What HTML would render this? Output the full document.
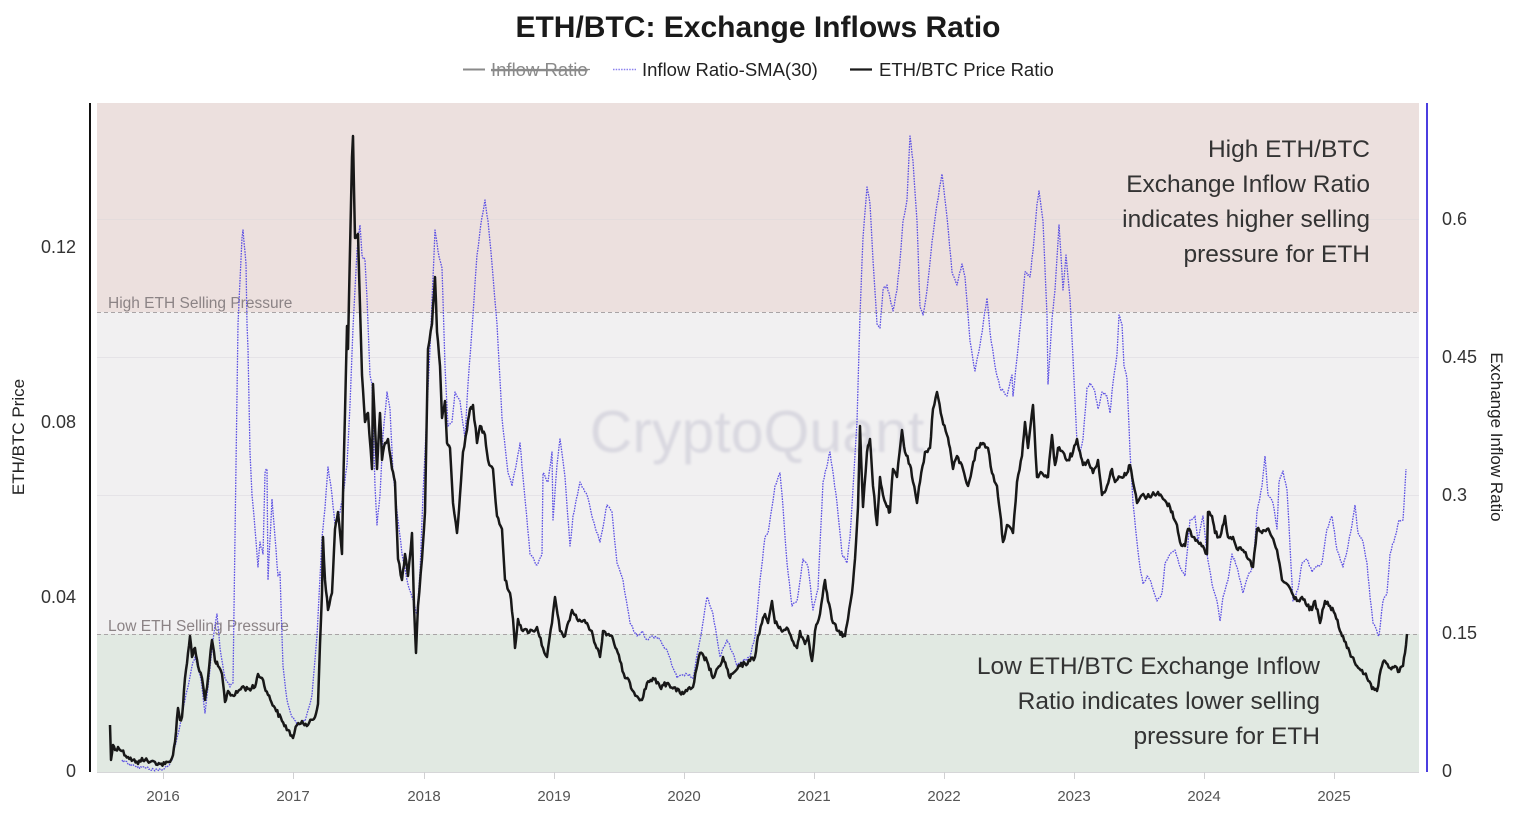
<!DOCTYPE html>
<html>
<head>
<meta charset="utf-8">
<style>
html,body{margin:0;padding:0;background:#fff;}
body{width:1525px;height:816px;overflow:hidden;}
svg{display:block;font-family:"Liberation Sans",Arial,sans-serif;}
</style>
</head>
<body>
<svg id="chart" width="1525" height="816" viewBox="0 0 1525 816" xmlns="http://www.w3.org/2000/svg">
<defs>
<filter id="blur" x="-10%" y="-30%" width="120%" height="160%"><feGaussianBlur stdDeviation="1.3"/></filter>
</defs>
<rect x="0" y="0" width="1525" height="816" fill="#ffffff"/>

<!-- Title -->
<text x="758" y="37" text-anchor="middle" font-size="30" font-weight="bold" fill="#1a1a1a">ETH/BTC: Exchange Inflows Ratio</text>

<!-- Legend -->
<line x1="463" y1="69.5" x2="485" y2="69.5" stroke="#8a8a8a" stroke-width="2"/>
<text x="491" y="76" font-size="18.5" fill="#8a8a8a" text-decoration="line-through">Inflow Ratio</text>
<line x1="491" y1="69.5" x2="590" y2="69.5" stroke="#8a8a8a" stroke-width="1.3"/>
<line x1="613" y1="69.5" x2="636" y2="69.5" stroke="#8a80ee" stroke-width="1.5" stroke-dasharray="1.5 1.2"/>
<text x="642" y="76" font-size="18.5" fill="#222">Inflow Ratio-SMA(30)</text>
<line x1="850" y1="69.5" x2="872" y2="69.5" stroke="#1a1a1a" stroke-width="2.2"/>
<text x="879" y="76" font-size="18.5" fill="#222">ETH/BTC Price Ratio</text>

<!-- Plot backgrounds -->
<rect x="97" y="103" width="1322" height="209" fill="#ece0de"/>
<rect x="97" y="312" width="1322" height="322" fill="#f1f0f1"/>
<rect x="97" y="634" width="1322" height="138" fill="#e1e9e2"/>

<!-- grid lines -->
<line x1="97" y1="219.5" x2="1419" y2="219.5" stroke="#e4dcdc" stroke-width="1"/>
<line x1="97" y1="357.5" x2="1419" y2="357.5" stroke="#e5e3e7" stroke-width="1"/>
<line x1="97" y1="495.5" x2="1419" y2="495.5" stroke="#e5e3e7" stroke-width="1"/>

<!-- thresholds -->
<line x1="97" y1="312.5" x2="1419" y2="312.5" stroke="#a9a4a6" stroke-width="1" stroke-dasharray="4 3"/>
<line x1="97" y1="634.5" x2="1419" y2="634.5" stroke="#a9a4a6" stroke-width="1" stroke-dasharray="4 3"/>
<text x="108" y="308" font-size="15.5" fill="#8b8385">High ETH Selling Pressure</text>
<text x="108" y="631" font-size="15.5" fill="#8b8385">Low ETH Selling Pressure</text>

<!-- watermark -->
<text x="757" y="452" text-anchor="middle" font-size="59" fill="#d9d8e0" filter="url(#blur)">CryptoQuant</text>

<!-- annotations -->
<g font-size="24.5" fill="#333" text-anchor="end">
<text x="1370" y="157">High ETH/BTC</text>
<text x="1370" y="192">Exchange Inflow Ratio</text>
<text x="1370" y="227">indicates higher selling</text>
<text x="1370" y="262">pressure for ETH</text>
<text x="1320" y="674">Low ETH/BTC Exchange Inflow</text>
<text x="1320" y="709">Ratio indicates lower selling</text>
<text x="1320" y="744">pressure for ETH</text>
</g>

<!-- series -->
<polyline id="purple" fill="none" stroke="#5b4fe3" stroke-width="1.3" stroke-dasharray="1.6 1.1" stroke-linejoin="round" points="122,760 128,764 135,766 150,769 162,770 168,766 172,760 178,734 185,700 192,666 195,657 200,675 202,687 205,713 208,687 213,640 217,614 220,648 225,678 230,687 233,683 235,537 238,324 242,238 243,230 246,264 247,324 248,349 250,452 252,495 255,529 258,567 260,542 263,554 265,473 267,469 268,580 272,499 275,537 278,576 280,572 283,666 287,700 292,717 298,725 305,721 312,695 317,636 322,537 325,508 328,467 332,495 335,525 340,512 343,495 347,465 350,405 353,328 357,251 360,225 362,255 365,260 367,298 370,375 372,384 375,486 377,525 380,495 383,435 387,392 390,409 393,473 398,520 402,554 407,580 412,597 417,614 420,572 423,495 427,409 430,349 435,230 438,251 442,268 445,366 448,426 452,422 455,392 460,401 465,439 468,384 473,315 477,255 482,217 485,200 488,221 492,264 497,324 502,418 508,473 512,486 517,460 520,443 523,477 530,554 537,565 542,554 543,473 548,482 552,452 553,520 557,465 560,439 565,477 570,546 573,516 580,482 587,495 593,520 600,542 607,505 612,512 617,563 623,580 630,623 637,636 642,631 647,640 653,636 660,640 668,653 677,678 687,674 693,678 700,640 707,597 713,614 720,657 727,640 733,653 737,666 743,661 750,657 755,636 760,580 765,537 768,533 772,507 775,486 780,473 783,507 787,563 792,606 797,601 803,559 808,567 813,610 818,589 823,482 830,452 837,503 842,554 847,563 850,537 857,422 860,315 863,238 867,187 870,204 873,260 877,324 880,328 883,290 887,285 890,298 893,311 897,290 900,260 903,221 907,200 910,136 913,161 917,221 920,307 923,315 927,290 932,242 937,204 942,174 947,217 952,272 957,285 962,264 965,277 970,341 975,371 980,345 987,298 990,332 995,366 1000,388 1007,396 1012,375 1013,396 1017,358 1022,307 1025,272 1030,277 1033,251 1037,204 1039,191 1043,221 1047,315 1048,384 1052,319 1055,290 1059,225 1063,290 1066,255 1070,298 1073,358 1077,443 1080,452 1083,439 1087,388 1090,383 1095,392 1098,409 1102,392 1107,396 1110,413 1113,383 1117,354 1119,315 1122,324 1124,366 1127,379 1130,452 1133,503 1137,542 1140,567 1143,584 1147,576 1150,580 1153,589 1157,601 1162,593 1165,563 1170,554 1175,550 1180,567 1185,576 1190,520 1195,516 1198,542 1203,516 1207,554 1212,584 1217,601 1220,621 1223,597 1228,580 1232,554 1237,567 1240,580 1243,593 1248,576 1253,567 1257,512 1262,486 1265,456 1268,495 1273,503 1277,529 1279,482 1283,471 1287,490 1290,546 1293,601 1298,589 1302,563 1307,559 1312,572 1317,567 1322,563 1327,529 1332,516 1337,550 1343,567 1348,546 1352,525 1355,505 1358,533 1363,542 1367,563 1370,597 1373,623 1379,636 1383,601 1387,593 1390,554 1395,537 1399,520 1403,520 1406,469"/>

<polyline id="black" fill="none" stroke="#181818" stroke-width="2.5" stroke-linejoin="round" points="110,725 111,760 113,745 115,750 118,747 122,751 128,757 133,760 138,764 142,758 145,760 150,762 155,762 160,764 165,764 170,762 172,758 175,742 178,708 180,720 182,717 185,678 188,653 190,636 192,657 195,648 198,666 202,678 205,700 208,678 212,640 215,661 218,666 222,674 225,702 228,691 232,695 235,695 242,687 248,689 255,687 258,674 262,678 268,695 275,708 282,721 288,730 293,738 297,725 302,721 308,725 315,717 318,704 320,644 322,593 323,537 325,580 328,610 332,593 335,529 338,512 342,554 343,495 345,413 347,326 348,349 350,250 352,157 353,136 355,238 358,234 362,375 365,422 368,413 372,469 373,384 377,469 380,413 382,460 385,443 388,439 392,469 395,482 398,559 402,580 405,554 408,576 412,533 414,606 416,653 418,606 422,559 425,512 428,349 432,324 435,277 437,332 440,366 442,418 445,401 447,443 450,448 453,503 457,533 460,495 463,452 467,430 470,409 473,405 477,443 480,426 485,435 488,460 493,469 497,516 502,529 505,580 510,593 513,619 515,648 518,619 523,631 533,631 537,627 543,648 547,657 552,623 555,597 560,631 565,636 572,610 577,619 587,623 593,636 600,657 603,631 612,636 620,661 625,678 630,683 633,691 642,700 647,683 653,678 660,687 668,683 680,693 687,691 693,687 700,653 707,661 713,678 720,666 723,657 730,678 740,666 750,661 755,657 758,636 762,623 765,614 768,623 772,601 775,623 780,627 783,631 788,629 792,640 797,648 800,631 805,644 808,636 812,661 815,631 820,614 825,580 828,601 833,623 838,631 845,636 848,619 852,593 855,559 858,507 860,426 863,507 867,452 870,439 873,486 877,525 880,477 883,495 887,507 890,512 893,469 897,477 902,430 905,452 910,465 913,482 917,503 920,482 925,452 930,448 933,409 937,392 942,418 947,435 950,448 953,469 957,456 963,469 968,486 972,469 977,448 983,443 988,448 992,473 997,486 1000,512 1003,542 1007,525 1013,533 1017,482 1022,456 1025,422 1028,448 1033,405 1037,477 1042,473 1048,477 1052,435 1055,465 1058,448 1063,452 1068,460 1073,452 1077,439 1080,452 1083,465 1088,460 1093,473 1098,460 1102,495 1107,486 1112,469 1115,482 1120,477 1127,473 1130,465 1137,503 1142,495 1147,497 1152,495 1158,492 1163,499 1170,507 1177,525 1180,542 1185,546 1188,529 1193,537 1198,542 1203,546 1207,554 1208,512 1212,516 1215,533 1220,537 1225,516 1228,537 1233,537 1238,550 1243,550 1248,559 1253,567 1257,529 1262,533 1267,529 1272,537 1277,550 1282,580 1287,584 1292,593 1297,601 1302,597 1307,606 1312,610 1315,601 1320,623 1325,601 1330,606 1335,614 1340,631 1343,636 1347,648 1352,657 1357,666 1362,670 1367,678 1372,689 1377,691 1382,666 1385,661 1390,668 1395,666 1398,672 1403,666 1405,653 1407,634"/>

<!-- axes -->
<line x1="90" y1="103" x2="90" y2="772" stroke="#111" stroke-width="2"/>
<line x1="1427" y1="103" x2="1427" y2="772" stroke="#4b3ee0" stroke-width="2"/>
<line x1="97" y1="772.5" x2="1419" y2="772.5" stroke="#d6d6d8" stroke-width="1"/>
<g stroke="#d0d0d2" stroke-width="1">
<line x1="163.5" y1="772" x2="163.5" y2="779"/>
<line x1="293.5" y1="772" x2="293.5" y2="779"/>
<line x1="424.5" y1="772" x2="424.5" y2="779"/>
<line x1="554.5" y1="772" x2="554.5" y2="779"/>
<line x1="684.5" y1="772" x2="684.5" y2="779"/>
<line x1="814.5" y1="772" x2="814.5" y2="779"/>
<line x1="944.5" y1="772" x2="944.5" y2="779"/>
<line x1="1074.5" y1="772" x2="1074.5" y2="779"/>
<line x1="1204.5" y1="772" x2="1204.5" y2="779"/>
<line x1="1334.5" y1="772" x2="1334.5" y2="779"/>
</g>

<!-- left ticks -->
<g font-size="18" fill="#333" text-anchor="end">
<text x="76" y="253">0.12</text>
<text x="76" y="428">0.08</text>
<text x="76" y="603">0.04</text>
<text x="76" y="777">0</text>
</g>
<!-- right ticks -->
<g font-size="18" fill="#333">
<text x="1442" y="225">0.6</text>
<text x="1442" y="363">0.45</text>
<text x="1442" y="501">0.3</text>
<text x="1442" y="639">0.15</text>
<text x="1442" y="777">0</text>
</g>
<!-- x ticks -->
<g font-size="15" fill="#555" text-anchor="middle">
<text x="163" y="801">2016</text>
<text x="293" y="801">2017</text>
<text x="424" y="801">2018</text>
<text x="554" y="801">2019</text>
<text x="684" y="801">2020</text>
<text x="814" y="801">2021</text>
<text x="944" y="801">2022</text>
<text x="1074" y="801">2023</text>
<text x="1204" y="801">2024</text>
<text x="1334" y="801">2025</text>
</g>

<!-- axis titles -->
<text transform="translate(24,437) rotate(-90)" text-anchor="middle" font-size="17" fill="#222">ETH/BTC Price</text>
<text transform="translate(1491,437) rotate(90)" text-anchor="middle" font-size="17" fill="#222">Exchange Inflow Ratio</text>
</svg>
<script>
(function(){
  var seed = 12345;
  function rnd(){ seed = (seed*1103515245 + 12345) & 0x7fffffff; return seed/0x7fffffff; }
  function densify(id, amp, minY, maxY){
    var el = document.getElementById(id);
    if(!el) return;
    var pts = el.getAttribute('points').trim().split(/\s+/).map(function(p){var a=p.split(',');return [parseFloat(a[0]),parseFloat(a[1])];});
    var out = [];
    for(var i=0;i<pts.length-1;i++){
      var a=pts[i], b=pts[i+1];
      var dx=b[0]-a[0];
      var n=Math.max(1, Math.round(dx/1.2));
      for(var k=0;k<n;k++){
        var t=k/n;
        var x=a[0]+dx*t, y=a[1]+(b[1]-a[1])*t;
        if(k>0){ y += (rnd()-0.5)*2*amp; }
        if(y<minY) y=minY; if(y>maxY) y=maxY;
        out.push(x.toFixed(2)+','+y.toFixed(2));
      }
    }
    var l=pts[pts.length-1]; out.push(l[0]+','+l[1]);
    el.setAttribute('points', out.join(' '));
  }
  try{ densify('black', 2.6, 104, 771); densify('purple', 1.6, 104, 771); }catch(e){}
})();
</script>
</body>
</html>
